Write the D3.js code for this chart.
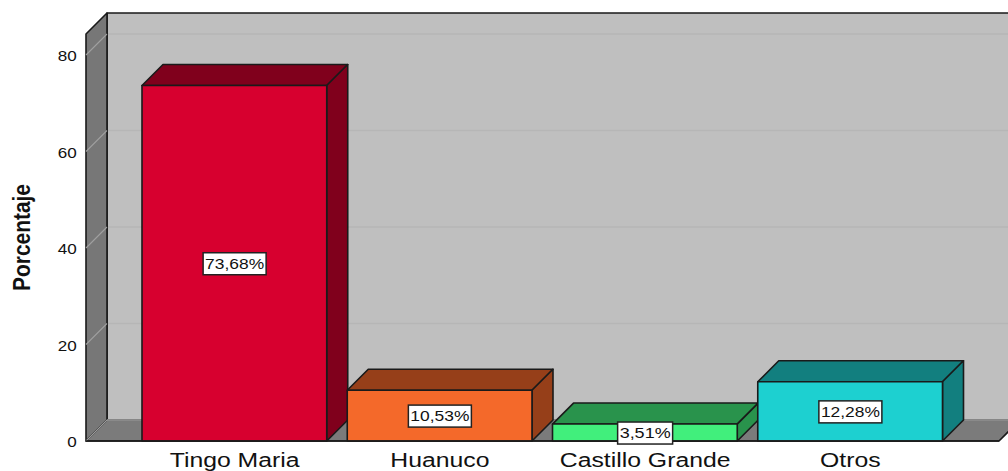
<!DOCTYPE html>
<html><head><meta charset="utf-8">
<script src="https://cdn.jsdelivr.net/npm/d3@7"></script>
<style>
html,body{margin:0;padding:0;background:#fff;overflow:hidden}
svg{display:block}
text{font-family:"Liberation Sans",Arial,sans-serif;fill:#111}
</style></head><body><svg id="c" width="1008" height="471"></svg>
<script>
const categories=["Tingo Maria","Huanuco","Castillo Grande","Otros"];
const percentages=[73.68,10.53,3.51,12.28];
const frontColors=["#d7002f","#f4692a","#41ef7c","#1dd0d0"];
const sideColors=["#80001c","#963f19","#29934c","#127f7f"];
const yTicks=[0,20,40,60,80];
const yLabel="Porcentaje";

const svg=d3.select("#c");
const W=1008,H=471,d=21;
const y=d3.scaleLinear().domain([0,80]).range([441,55]);
const x=d3.scaleBand().domain(categories).range([142,943]).paddingInner(0.0975);
const L=86,R=999,yTop=y(84.35),y0=y(0);
const line="#1a1a1a";
const poly=(pts,fill,sw=1.6)=>svg.append("polygon").attr("points",pts.map(p=>p.join(",")).join(" "))
  .attr("fill",fill).attr("stroke",fill==="none"?"none":line).attr("stroke-width",sw).attr("stroke-linejoin","round");

// back wall, left wall, floor
poly([[L+d,yTop-d],[R+d+20,yTop-d],[R+d+20,y0-d],[L+d,y0-d]],"#bfbfbf");
poly([[L,yTop],[L+d,yTop-d],[L+d,y0-d],[L,y0]],"#777777");
poly([[L,y0],[L+d,y0-d],[R+d,y0-d],[R,y0]],"#7b7b7b");
svg.append("line").attr("x1",L+d).attr("x2",W).attr("y1",y0-d).attr("y2",y0-d).attr("stroke","#a8a8a8").attr("stroke-width",1.5);

// gridlines
const grid=svg.append("g").attr("fill","none");
yTicks.forEach(t=>{
  grid.append("path").attr("d",`M${L},${y(t)}L${L+d},${y(t)-d}`).attr("stroke","#a0a0a0").attr("stroke-width",1.1);
  if(t>0) grid.append("path").attr("d",`M${L+d+1},${y(t)-d}L${W},${y(t)-d}`).attr("stroke","#b6b6b6").attr("stroke-width",1.6);
});

// bars
categories.forEach((c,i)=>{
  const a=x(c),b=a+x.bandwidth()-0.5,t=y(percentages[i]);
  poly([[a,t],[a+d,t-d],[b+d,t-d],[b,t]],sideColors[i]);
  poly([[b,t],[b+d,t-d],[b+d,y0-d],[b,y0]],sideColors[i]);
  poly([[a,t],[b,t],[b,y0],[a,y0]],frontColors[i]);
});
svg.append("line").attr("x1",L).attr("x2",R).attr("y1",y0).attr("y2",y0).attr("stroke",line).attr("stroke-width",1.6);

// value labels
const fmt=v=>v.toFixed(2).replace(".",",")+"%";
categories.forEach((c,i)=>{
  const cx=x(c)+x.bandwidth()/2,cy=(y(percentages[i])+y0)/2+0.5;
  const s=fmt(percentages[i]),w=s.length===6?63:55;
  const g=svg.append("g").attr("transform",`translate(${cx},${cy})`);
  g.append("rect").attr("x",-w/2).attr("y",-11).attr("width",w).attr("height",22).attr("fill","#fff").attr("stroke","#222").attr("stroke-width",1.5);
  g.append("text").attr("text-anchor","middle").attr("dy","0.36em").attr("font-size",14).attr("textLength",w-4).attr("lengthAdjust","spacingAndGlyphs").text(s);
});

// y axis
const ax=svg.append("g").attr("transform",`translate(${L},1.5)`).call(d3.axisLeft(y).tickValues(yTicks).tickSize(0).tickPadding(9));
ax.select(".domain").remove();
ax.selectAll("text").attr("font-size",14).attr("font-family","'Liberation Sans',Arial,sans-serif").attr("fill","#222")
  .attr("transform","scale(1.22,1)").attr("x",-7.5);

// x labels
categories.forEach(c=>{
  svg.append("g").attr("transform",`translate(${x(c)+x.bandwidth()/2},467) scale(1.18,1)`)
   .append("text").attr("text-anchor","middle").attr("font-size",21).attr("fill","#222").text(c);
});

// y title
svg.append("g").attr("transform","translate(30,237.5) rotate(-90)")
  .append("text").attr("text-anchor","middle").attr("font-size",24).attr("font-weight","bold").attr("textLength",107).attr("lengthAdjust","spacingAndGlyphs").text(yLabel);
</script></body></html>
